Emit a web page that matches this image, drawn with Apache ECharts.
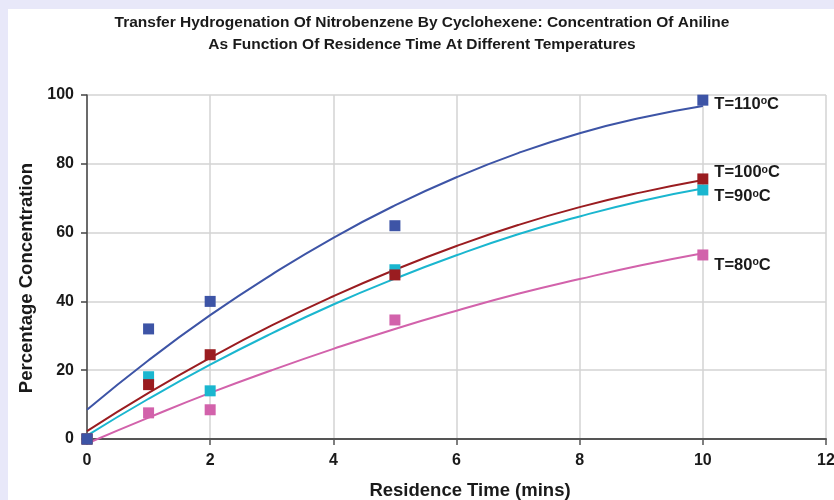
<!DOCTYPE html>
<html>
<head>
<meta charset="utf-8">
<script src="https://cdn.jsdelivr.net/npm/echarts@6/dist/echarts.min.js"></script>
<style>
  html, body { margin: 0; padding: 0; background: #e8e8f9; }
  #wrap { position: relative; width: 834px; height: 500px; overflow: hidden; }
  #paper { position: absolute; left: 8px; top: 9px; right: 0; bottom: 0; background: #ffffff; }
  #chart { position: absolute; left: 0; top: 0; width: 834px; height: 500px; }
</style>
</head>
<body>
<div id="wrap"><div id="paper"></div><div id="chart"></div></div>
<script>
// Measured points (residence time in mins, % aniline)
const times = [0, 1, 2, 5, 10];
const conc110 = [0, 32, 40, 62, 98.5];
const conc100 = [0, 15.8, 24.5, 47.7, 75.6];
const conc90 = [0, 18.1, 14.0, 49.2, 72.4];
const conc80 = [0, 7.6, 8.5, 34.6, 53.5];

// Trend curves
const curveX = [0, 1, 2, 3, 4, 5, 6, 7, 8, 9, 10];
const fit110 = [8.5, 22.9, 36.0, 47.8, 58.5, 67.9, 76.1, 83.1, 88.9, 93.4, 96.8];
const fit100 = [2.3, 13.4, 23.6, 33.0, 41.5, 49.2, 56.1, 62.2, 67.4, 71.7, 75.3];
const fit90 = [1.0, 11.7, 21.6, 30.7, 39.1, 46.6, 53.4, 59.5, 64.7, 69.2, 72.8];
const fit80 = [-1.3, 6.2, 13.4, 20.0, 26.2, 32.0, 37.3, 42.2, 46.5, 50.5, 54.0];

const seriesNames = ['80', '90', '100', '110'];
const xTicks = [0, 2, 4, 6, 8, 10, 12];
const yTicks = [0, 20, 40, 60, 80, 100];

const colors = { '80': '#d262ab', '90': '#1ab6cf', '100': '#9a1c20', '110': '#3d54a6' };
const labelOffsets = { '80': 10, '90': 7, '100': -6, '110': 4 };
const pointsBy = { '80': conc80, '90': conc90, '100': conc100, '110': conc110 };
const fitsBy = { '80': fit80, '90': fit90, '100': fit100, '110': fit110 };

const series = [];
seriesNames.forEach(function (n) {
  series.push({
    type: 'line',
    name: 'fit' + n,
    data: curveX.map(function (x, i) { return [x, fitsBy[n][i]]; }),
    smooth: true,
    showSymbol: false,
    symbol: 'none',
    clip: false,
    lineStyle: { color: colors[n], width: 2 },
    z: 2,
    silent: true
  });
});
seriesNames.forEach(function (n) {
  const pts = pointsBy[n];
  series.push({
    type: 'scatter',
    name: 'T=' + n,
    symbol: 'rect',
    symbolSize: 11,
    itemStyle: { color: colors[n], opacity: 1 },
    z: 3,
    data: times.map(function (t, i) {
      const item = { value: [t, pts[i]] };
      if (i === times.length - 1) {
        item.label = {
          show: true,
          position: 'right',
          distance: 6,
          offset: [0, labelOffsets[n]],
          formatter: '{a|T=' + n + '}{s|o}{a|C}',
          rich: {
            a: { fontFamily: 'Liberation Sans, Arial, sans-serif', fontWeight: 'bold', fontSize: 16.5, color: '#1a1a1a' },
            s: { fontFamily: 'Liberation Sans, Arial, sans-serif', fontWeight: 'bold', fontSize: 10.5, color: '#1a1a1a', verticalAlign: 'top', padding: [0, 0, 6, 0] }
          }
        };
      }
      return item;
    })
  });
});

const chart = echarts.init(document.getElementById('chart'), null, { renderer: 'canvas' });
chart.setOption({
  backgroundColor: 'transparent',
  animation: false,
  title: {
    text: 'Transfer Hydrogenation Of Nitrobenzene By Cyclohexene: Concentration Of Aniline\nAs Function Of Residence Time At Different Temperatures',
    left: 417,
    top: 7,
    textAlign: 'center',
    textStyle: {
      fontFamily: 'Liberation Sans Narrow, Arial Narrow, sans-serif',
      fontWeight: 'bold',
      fontSize: 15.5,
      lineHeight: 22,
      color: '#1a1a1a'
    }
  },
  grid: { left: 87, right: 8, top: 95, bottom: 61, containLabel: false, outerBoundsMode: 'none' },
  xAxis: {
    type: 'value',
    min: xTicks[0],
    max: xTicks[xTicks.length - 1],
    interval: 2,
    name: 'Residence Time (mins)',
    nameLocation: 'middle',
    nameGap: 42,
    nameTextStyle: { fontFamily: 'Liberation Sans, Arial, sans-serif', fontWeight: 'bold', fontSize: 18.5, color: '#1a1a1a', padding: [0, 0, 0, 27] },
    axisLine: { show: true, onZero: false, lineStyle: { color: '#555555', width: 2 } },
    axisTick: { show: true, length: 6, lineStyle: { color: '#555555', width: 1.5 } },
    axisLabel: { margin: 14, fontFamily: 'Liberation Sans, Arial, sans-serif', fontWeight: 'bold', fontSize: 16, color: '#1a1a1a' },
    splitLine: { show: true, lineStyle: { color: '#d3d3d3', width: 1.5 } }
  },
  yAxis: {
    type: 'value',
    min: yTicks[0],
    max: yTicks[yTicks.length - 1],
    interval: 20,
    name: 'Percentage Concentration',
    nameLocation: 'middle',
    nameGap: 51,
    nameTextStyle: { fontFamily: 'Liberation Sans, Arial, sans-serif', fontWeight: 'bold', fontSize: 18.5, color: '#1a1a1a', padding: [0, 22, 0, 0] },
    axisLine: { show: true, onZero: false, lineStyle: { color: '#444444', width: 1.5 } },
    axisTick: { show: true, length: 6, lineStyle: { color: '#444444', width: 1.5 } },
    axisLabel: { margin: 13, fontFamily: 'Liberation Sans, Arial, sans-serif', fontWeight: 'bold', fontSize: 16, color: '#1a1a1a' },
    splitLine: { show: true, lineStyle: { color: '#d3d3d3', width: 1.5 } }
  },
  series: series
});
</script>
</body>
</html>
